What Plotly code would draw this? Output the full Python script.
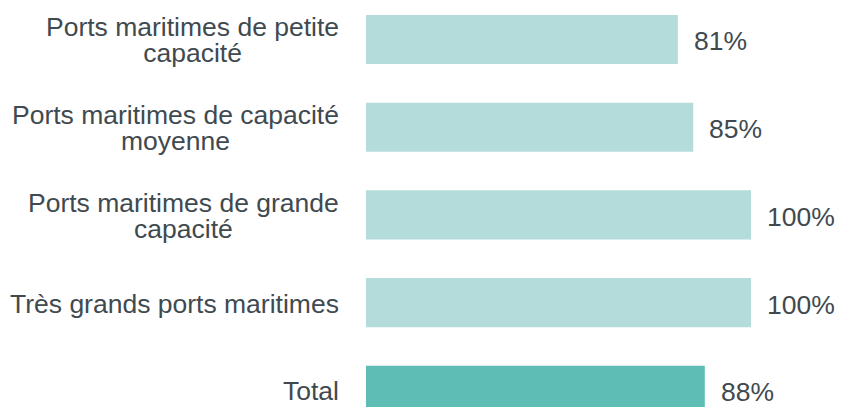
import plotly.graph_objects as go

# Données du graphique
categories = [
    "Ports maritimes de petite<br>capacité",
    "Ports maritimes de capacité<br>moyenne",
    "Ports maritimes de grande<br>capacité",
    "Très grands ports maritimes",
    "Total",
]
values = [81, 85, 100, 100, 88]
bar_colors = ["#B4DCDA", "#B4DCDA", "#B4DCDA", "#B4DCDA", "#5EBDB5"]

TEXT_COLOR = "#3F4A50"
FONT = "Liberation Sans, Arial, sans-serif"
FONT_SIZE = 26.5

fig = go.Figure(
    go.Bar(
        x=values,
        y=categories,
        orientation="h",
        width=0.56,
        marker=dict(color=bar_colors, line=dict(width=0)),
        hoverinfo="skip",
    )
)

annotations = []

# valeurs à droite des barres
for cat, v in zip(categories, values):
    annotations.append(dict(
        x=v, y=cat, xref="x", yref="y", text=f"{v}%",
        xanchor="left", yanchor="middle", xshift=14, yshift=-2,
        showarrow=False, font=dict(size=FONT_SIZE, color=TEXT_COLOR, family=FONT),
    ))

# libellés des catégories (centrés, interligne serré)
hidden = "<span style='color:rgba(0,0,0,0)'>{}</span>"
for cat in categories:
    lines = cat.split("<br>")
    n = len(lines)
    for i in range(n):
        text = "<br>".join(l if j == i else hidden.format(l) for j, l in enumerate(lines))
        annotations.append(dict(
            x=0, y=cat, xref="paper", yref="y", text=text,
            xanchor="right", yanchor="middle", align="center",
            xshift=-25, yshift=(i - (n - 1) / 2) * 8 - 1,
            showarrow=False, font=dict(size=FONT_SIZE, color=TEXT_COLOR, family=FONT),
        ))

fig.update_layout(
    width=841,
    height=407,
    margin=dict(l=366, r=90, t=0, b=0),
    paper_bgcolor="white",
    plot_bgcolor="white",
    showlegend=False,
    xaxis=dict(range=[0, 100], visible=False),
    yaxis=dict(range=[4.19, -0.45], visible=False),
    annotations=annotations,
)

# pas de marge de page, pas de barre d'outils
fig.write_html(
    "out.html",
    config={"displayModeBar": False, "staticPlot": True},
    post_script="document.body.style.margin='0';document.body.style.overflow='hidden';",
)
